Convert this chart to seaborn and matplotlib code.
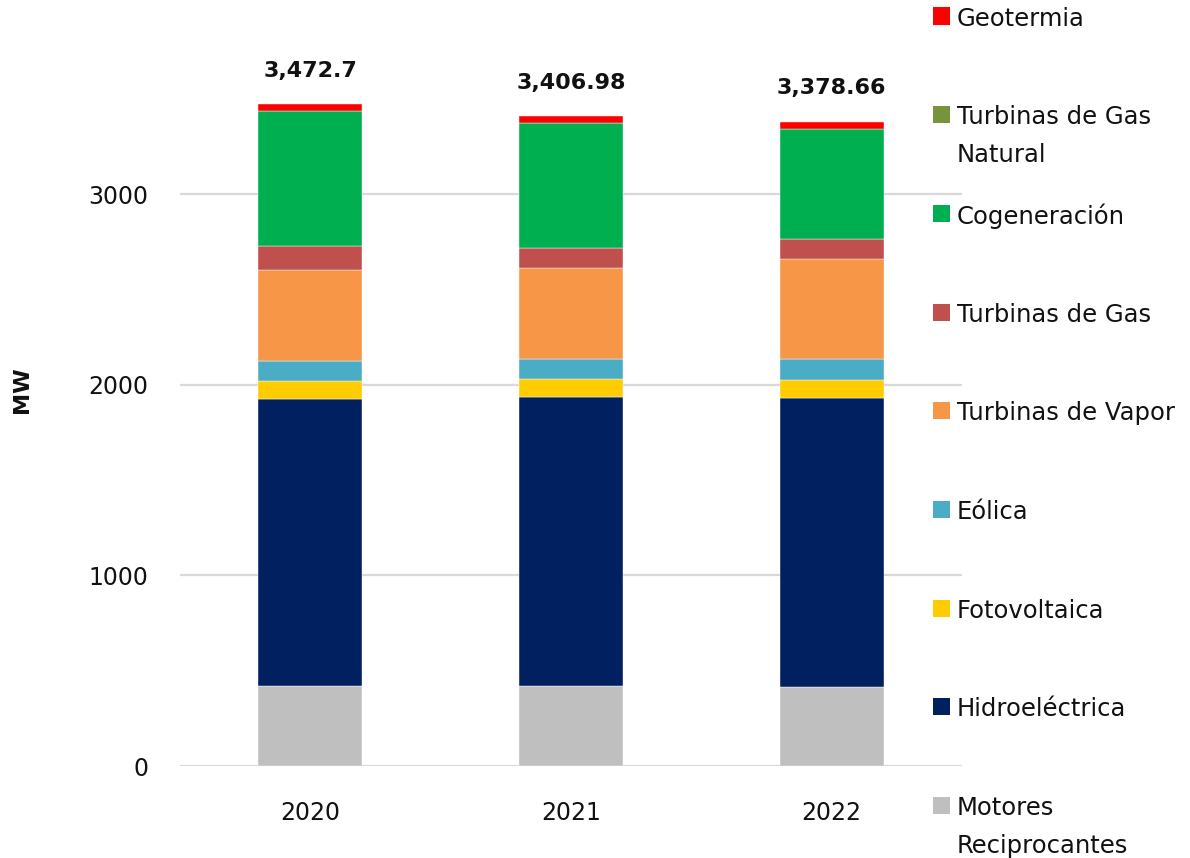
import matplotlib
matplotlib.use("Agg")
import matplotlib.pyplot as plt
from matplotlib.patches import Rectangle
import numpy as np
import seaborn as sns

# Installed capacity (MW) by technology
years = ["2020", "2021", "2022"]

motores_reciprocantes = [420, 420, 416]
hidroelectrica = [1506, 1514, 1513]
fotovoltaica = [93, 94, 95]
eolica = [107, 105, 109]
turbinas_vapor = [475, 479, 528]
turbinas_gas = [126, 103, 103]
cogeneracion = [710.7, 656.98, 575.66]
turbinas_gas_natural = [0, 0, 0]
geotermia = [35, 35, 39]

# Stack order, bottom to top
series = [
    ("Motores\nReciprocantes", motores_reciprocantes, "#BFBFBF"),
    ("Hidroeléctrica", hidroelectrica, "#002060"),
    ("Fotovoltaica", fotovoltaica, "#FFCC00"),
    ("Eólica", eolica, "#4BACC6"),
    ("Turbinas de Vapor", turbinas_vapor, "#F79646"),
    ("Turbinas de Gas", turbinas_gas, "#C0504D"),
    ("Cogeneración", cogeneracion, "#00B050"),
    ("Turbinas de Gas\nNatural", turbinas_gas_natural, "#77933C"),
    ("Geotermia", geotermia, "#FF0000"),
]

sns.set_theme(style="white")
plt.rcParams["font.family"] = ["DejaVu Sans"]
plt.rcParams["text.color"] = "#111111"

W, H = 1190, 858
fig = plt.figure(figsize=(W / 100, H / 100), dpi=100)
ax = fig.add_axes([180 / W, 92 / H, (962 - 180) / W, (766 - 79.6) / H])

bottom = np.zeros(len(years))
for name, vals, color in series:
    vals = np.asarray(vals, dtype=float)
    sns.barplot(x=years, y=vals, bottom=bottom, color=color, saturation=1,
                width=0.4, errorbar=None, ax=ax,
                edgecolor="white", linewidth=0.3 if vals.any() else 0)
    bottom = bottom + vals

totals = bottom
for i, t in enumerate(totals):
    ax.annotate(f"{round(t, 2):,}", (i, t), xytext=(0, 24),
                textcoords="offset points", ha="center", va="center",
                fontsize=16, fontweight="bold", annotation_clip=False)

ax.set_ylim(0, 3600)
ax.set_xlim(-0.5, 2.5)
ax.set_yticks([0, 1000, 2000, 3000])
ax.yaxis.grid(True, color="#D9D9D9", linewidth=1.6)
ax.xaxis.grid(False)
ax.set_axisbelow(True)
for s in ax.spines.values():
    s.set_visible(False)
ax.tick_params(axis="x", length=0, pad=25, labelsize=17, labelcolor="#111111")
ax.tick_params(axis="y", length=0, pad=23, labelsize=17, labelcolor="#111111")
ax.set_xlabel("")
ax.set_ylabel("")

fig.text(22 / W, 1 - 390 / H, "MW", rotation=90, ha="center", va="center",
         fontsize=16, fontweight="bold")

# Legend, top to bottom; wrapped names continue on the lines below
step = 98.7
line_gap = 38
for k, (name, vals, color) in enumerate(reversed(series)):
    yc = 16 + k * step
    fig.patches.append(Rectangle((933 / W, 1 - (yc + 8.5) / H), 17 / W, 17 / H,
                                 transform=fig.transFigure, facecolor=color,
                                 edgecolor="none"))
    for j, line in enumerate(name.split("\n")):
        fig.text(957 / W, 1 - (yc + j * line_gap) / H, line, ha="left",
                 va="center_baseline", fontsize=17.5)

fig.savefig("out.png", dpi=100)
